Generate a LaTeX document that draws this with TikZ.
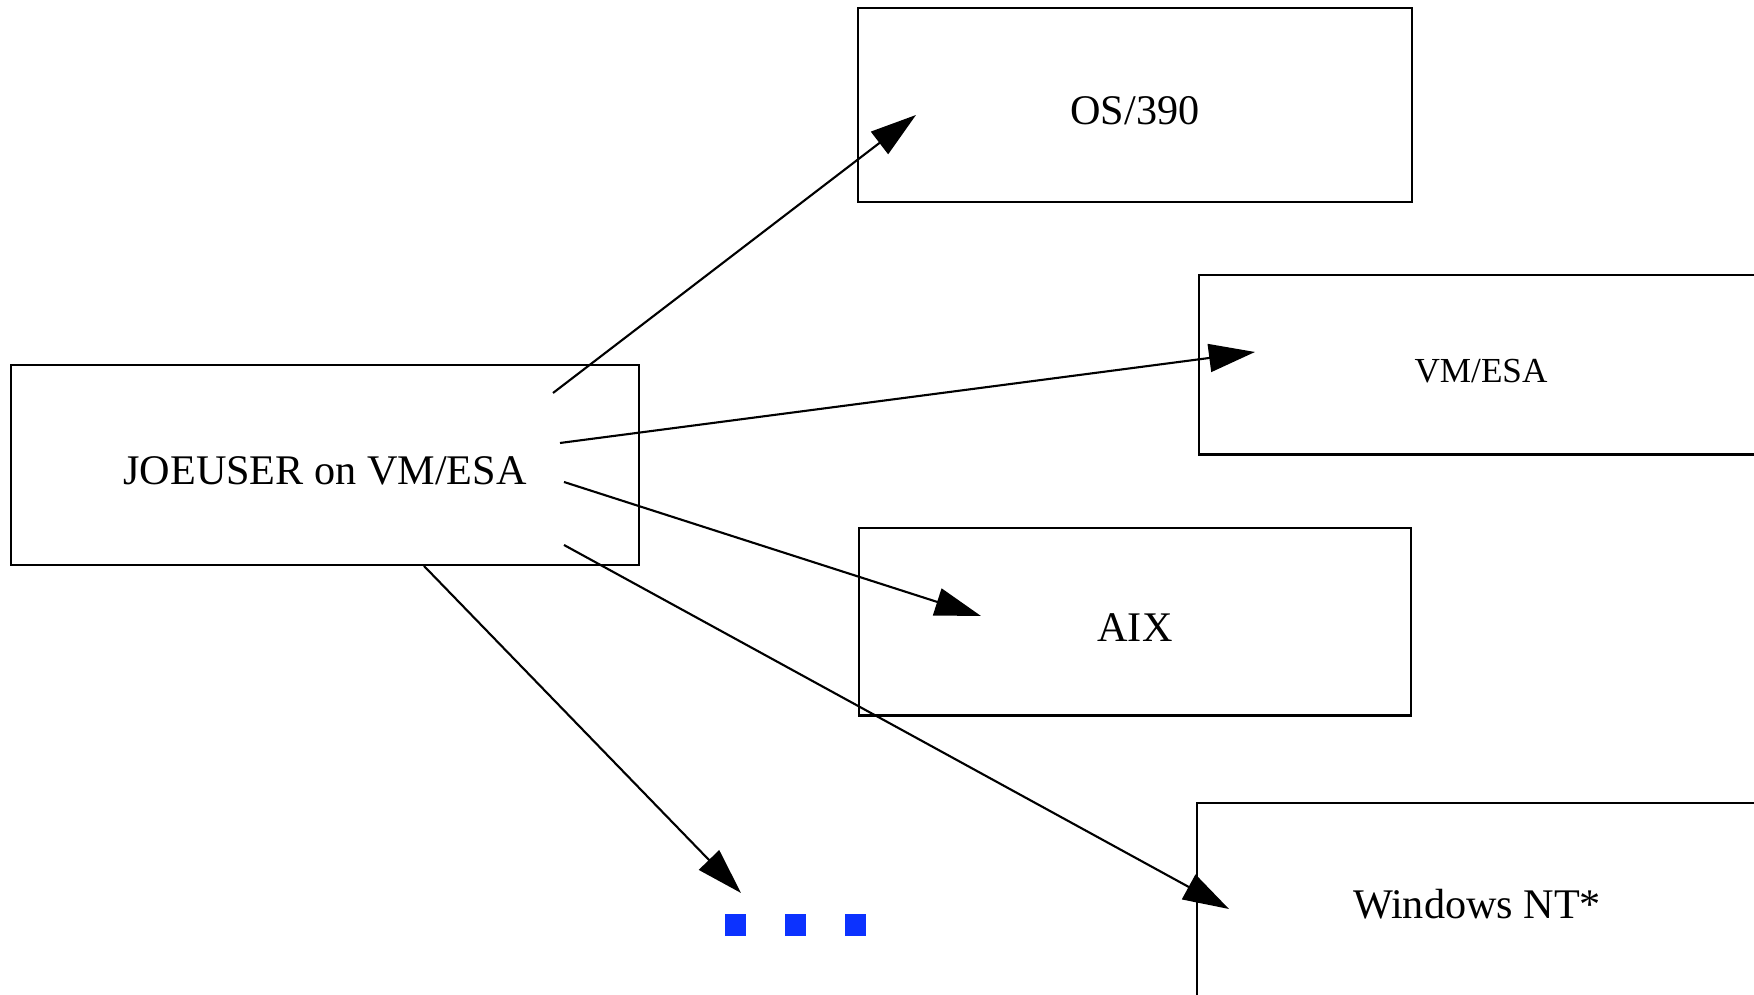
\documentclass[tikz,border=0pt]{standalone}
\usepackage{fontspec}
\setmainfont{Liberation Serif}
\usepackage{xcolor}
\usetikzlibrary{arrows.meta}

\definecolor{dotblue}{RGB}{12,50,255}

\tikzset{
	sysbox/.style = {draw, line width = 0.6pt, inner sep = 0, text height = 11pt, text depth = 0pt, font = \fontsize{12}{14}\selectfont},
	link/.style = {-{Triangle[length = 0.46cm, width = 0.28cm]}, line width = 0.6pt},
	dotsq/.style = {fill = dotblue, minimum size = 0.21cm, inner sep = 0}
}

\begin{document}
\begin{tikzpicture}[x = 0.01cm, y = -0.01cm]
		\path [clip, use as bounding box] (0,0) rectangle (1754,995);
		
		% the user and the systems
		\node [sysbox, minimum width = 6.28cm, minimum height = 2cm] (joe) at (325,465) {JOEUSER on VM/ESA};
		\node [sysbox, minimum width = 5.54cm, minimum height = 1.94cm] (os) at (1135,105) {OS/390};
		\node [sysbox, minimum width = 5.64cm, minimum height = 1.79cm, text height = 9.8pt, font = \fontsize{10}{12}\selectfont] (vm) at (1481,365) {VM/ESA};
		\node [sysbox, minimum width = 5.52cm, minimum height = 1.87cm] (aix) at (1135,622) {AIX};
		\node [sysbox, minimum width = 5.60cm, minimum height = 2.02cm, text height = 8pt] (nt) at (1477,904) {Windows NT*};
		
		% more systems
		\foreach \i/\x in {1/735, 2/795, 3/855}
			\node [dotsq] (more\i) at (\x,925) {};
		
		% ends of the links
		\coordinate (joe-os) at (553,393);
		\coordinate (joe-vm) at (560,443);
		\coordinate (joe-aix) at (564,482);
		\coordinate (joe-nt) at (564,545);
		\coordinate (joe-more) at (424,566);
		\coordinate (os-in) at (916,115);
		\coordinate (vm-in) at (1255,352);
		\coordinate (aix-in) at (981,616);
		\coordinate (nt-in) at (1229,909);
		\coordinate (more-in) at (741,893);
		
		\draw [link] (joe-os) -- (os-in);
		\draw [link] (joe-vm) -- (vm-in);
		\draw [link] (joe-aix) -- (aix-in);
		\draw [link] (joe-nt) -- (nt-in);
		\draw [link] (joe-more) -- (more-in);
	\end{tikzpicture}
\end{document}
